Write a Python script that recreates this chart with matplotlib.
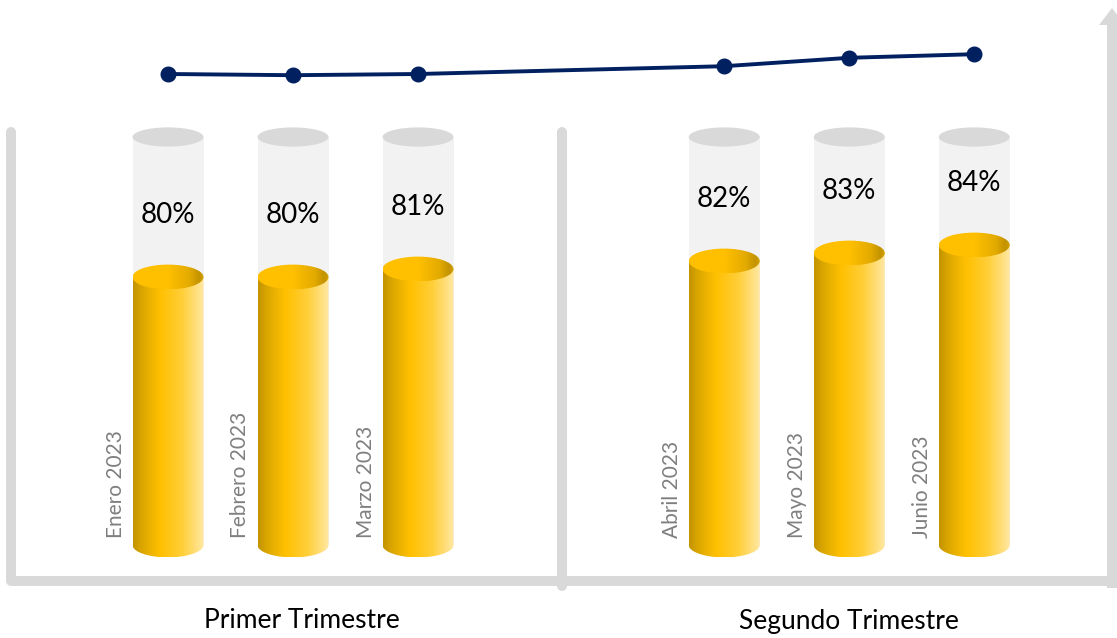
import numpy as np
import matplotlib
matplotlib.use("Agg")
import matplotlib.pyplot as plt
from matplotlib.colors import LinearSegmentedColormap
from matplotlib.patches import Ellipse, PathPatch, Rectangle, Polygon
from matplotlib.path import Path
from matplotlib.lines import Line2D

# ---------------- data ----------------
meses = ["Enero 2023", "Febrero 2023", "Marzo 2023", "Abril 2023", "Mayo 2023", "Junio 2023"]
grupo = [0, 0, 0, 1, 1, 1]
trimestres = ["Primer Trimestre", "Segundo Trimestre"]
porcentajes = [80, 80, 81, 82, 83, 84]
tendencia = [80.3, 80.1, 80.3, 81.6, 83.0, 83.6]
maximo = 97.5      # level of the grey "empty" cylinder
base = 46.5        # value where the cylinders start

plt.rcParams['font.family'] = ['Lato', 'DejaVu Sans']

W, H = 1117, 638
fig = plt.figure(figsize=(W / 100, H / 100), dpi=100)
ax = fig.add_axes([0, 0, 1, 1])
ax.set_axis_off()

gap = 1.45
pos = [i + gap * g for i, g in enumerate(grupo)]
bw = 0.568
eh_gold = 3.1
eh_gray = 2.4

body_cmap = LinearSegmentedColormap.from_list(
    "body", [(0, "#C39300"), (0.12, "#D9A600"), (0.38, "#FFC000"), (0.7, "#FFCF3A"), (1, "#FFE8A3")])
top_cmap = LinearSegmentedColormap.from_list(
    "top", [(0, "#FFC000"), (0.5, "#FFC000"), (0.8, "#E3AA00"), (0.94, "#C29200"), (1, "#D6A400")])
grad = np.linspace(0, 1, 256).reshape(1, -1)

for x, v, lab in zip(pos, porcentajes, meses):
    # grey background cylinder
    ax.add_patch(Rectangle((x - bw / 2, base), bw, maximo - base,
                           facecolor="#F2F2F2", edgecolor="none", zorder=1))
    ax.add_patch(Ellipse((x, maximo), bw, eh_gray, facecolor="#D9D9D9",
                         edgecolor="none", zorder=2))
    # gold body
    t = np.linspace(np.pi, 2 * np.pi, 60)
    ex = x + bw / 2 * np.cos(t)
    ey = base + eh_gold / 2 * np.sin(t)
    verts = list(zip(ex, ey)) + [(x + bw / 2, v), (x - bw / 2, v), (ex[0], ey[0])]
    codes = [Path.MOVETO] + [Path.LINETO] * (len(verts) - 2) + [Path.CLOSEPOLY]
    clip = PathPatch(Path(verts, codes), transform=ax.transData,
                     facecolor='none', edgecolor='none')
    ax.add_patch(clip)
    im = ax.imshow(grad, cmap=body_cmap, extent=(x - bw / 2, x + bw / 2, base - eh_gold / 2, v),
                   aspect='auto', zorder=3, interpolation='bilinear')
    im.set_clip_path(clip)
    # gold top
    top = Ellipse((x, v), bw, eh_gold, transform=ax.transData,
                  facecolor='none', edgecolor='none')
    ax.add_patch(top)
    im2 = ax.imshow(grad, cmap=top_cmap,
                    extent=(x - bw / 2, x + bw / 2, v - eh_gold / 2, v + eh_gold / 2),
                    aspect='auto', zorder=4, interpolation='bilinear')
    im2.set_clip_path(top)
    # value label
    ax.text(x, v + 7.8, f"{v}%", ha='center', va='center', fontsize=20,
            color='black', zorder=6)
    # month label
    ax.text(x - bw / 2 - 0.136, base + 0.9, lab, rotation=90, ha='center', va='bottom',
            fontsize=15, color='#7F7F7F', zorder=6)

ax.set_xlim(-1.344, 7.592)
ax.set_ylim(34.875, 114.625)

# group labels
for g, name in enumerate(trimestres):
    gx = np.mean([p for p, gg in zip(pos, grupo) if gg == g])
    ax.text(gx + 0.07 * (1 - g), 1 - 621 / H, name, transform=ax.get_xaxis_transform(),
            ha='center', va='center', fontsize=19, color='black')

# trend line
ax2 = ax.twinx()
ax2.set_axis_off()
ax2.set_ylim(80.3 + 74 / 6 - H / 6, 80.3 + 74 / 6)
ax2.plot(pos, tendencia, color="#002060", lw=2.8, marker='o', ms=10.5,
         markeredgecolor="#002060", zorder=5)
ax2.set_xlim(-1.344, 7.592)

# frame (decoration in figure pixels)
def fx(px):
    return px / W

def fy(py):
    return 1 - py / H

grey = "#D9D9D9"
lw = 7.2
fig.add_artist(Line2D([fx(11), fx(11), fx(1112)], [fy(132), fy(581), fy(581)],
                      color=grey, lw=lw, solid_capstyle='round', solid_joinstyle='round',
                      transform=fig.transFigure))
fig.add_artist(Line2D([fx(562), fx(562)], [fy(132), fy(586)], color=grey, lw=lw,
                      solid_capstyle='round', transform=fig.transFigure))
fig.add_artist(Line2D([fx(1112), fx(1112)], [fy(22), fy(588)], color=grey, lw=lw,
                      solid_capstyle='butt', transform=fig.transFigure))
fig.add_artist(Line2D([fx(562), fx(562)], [fy(575), fy(586)], color=grey, lw=lw,
                      solid_capstyle='butt', transform=fig.transFigure))
fig.add_artist(Polygon([(fx(1099), fy(25)), (fx(1112), fy(8)), (fx(1125), fy(25))],
                       closed=True, facecolor=grey, edgecolor='none',
                       transform=fig.transFigure))

fig.savefig("out.png", dpi=100)
